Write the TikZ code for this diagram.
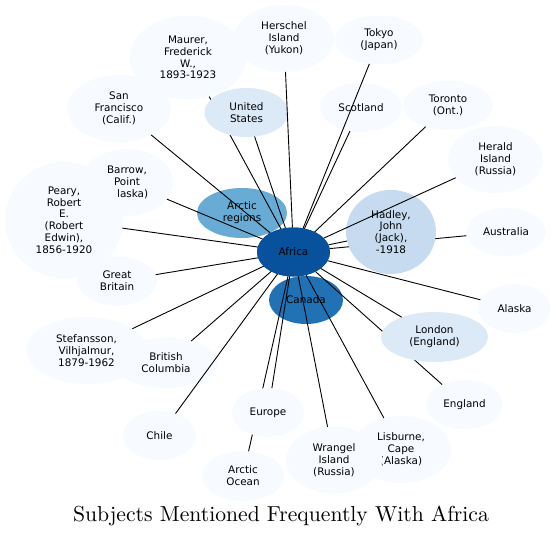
\documentclass[tikz,border=0pt]{standalone}
\usepackage{fontspec}
\usepackage{graphicx}
\usetikzlibrary{shapes.geometric}
\newfontfamily\nodefont{DejaVu Sans}
\definecolor{bl0}{HTML}{F7FBFF}
\definecolor{bl1}{HTML}{DCE9F6}
\definecolor{bl2}{HTML}{C6DBEF}
\definecolor{bl4}{HTML}{68ABD5}
\definecolor{bl6}{HTML}{2171B5}
\definecolor{bl7}{HTML}{08519C}
\tikzset{
  subj/.style n args={3}{ellipse, fill=#1, draw=none, inner sep=0pt, outer sep=0pt,
    minimum width=#2, minimum height=#3, align=center, text=black,
    font=\nodefont\fontsize{10.4}{11.8}\selectfont},
  edge/.style={draw=black, line width=0.9pt}
}
\begin{document}
\begin{tikzpicture}[x=1pt,y=-1pt]
\useasboundingbox (0,0) rectangle (556,537);
% bottom layer nodes
\node[subj={bl0}{117pt}{84pt}] (maurer) at (188,57.5) {Maurer,\\Frederick\\W.,\\1893-1923};
\node[subj={bl0}{100pt}{67pt}] (herschel) at (284,38.5) {Herschel\\Island\\(Yukon)};
\node[subj={bl0}{88pt}{49pt}] (tokyo) at (379,40) {Tokyo\\(Japan)};
\node[subj={bl0}{104pt}{67pt}] (sf) at (119,108.5) {San\\Francisco\\(Calif.)};
\node[subj={bl0}{82pt}{49pt}] (scotland) at (361,107.5) {Scotland};
\node[subj={bl0}{90pt}{49pt}] (toronto) at (448,105.5) {Toronto\\(Ont.)};
\node[subj={bl0}{95pt}{67pt}] (herald) at (495.5,159.5) {Herald\\Island\\(Russia)};
\node[subj={bl0}{92pt}{67pt}] (barrow) at (127,182.5) {Barrow,\\Point\\(Alaska)};
\node[subj={bl0}{118pt}{116pt}] (peary) at (64,220) {Peary,\\Robert\\E.\\(Robert\\Edwin),\\1856-1920};
\node[subj={bl4}{90pt}{50pt}] (arctic) at (242,213) {Arctic\\regions};
\node[subj={bl0}{80pt}{48pt}] (australia) at (506,232) {Australia};
\node[subj={bl0}{80pt}{49pt}] (gb) at (117,281) {Great\\Britain};
\node[subj={bl6}{74pt}{48pt}] (canada) at (306,300) {Canada};
\node[subj={bl0}{73pt}{49pt}] (alaska) at (514.5,308.5) {Alaska};
\node[subj={bl0}{104pt}{50pt}] (bc) at (166,363) {British\\Columbia};
\node[subj={bl0}{121pt}{67pt}] (stef) at (86.5,350.5) {Stefansson,\\Vilhjalmur,\\1879-1962};
\node[subj={bl0}{77pt}{49pt}] (england) at (464.5,404.5) {England};
\node[subj={bl0}{73pt}{49pt}] (chile) at (159.5,435.5) {Chile};
\node[subj={bl0}{82pt}{50pt}] (aocean) at (243,476) {Arctic\\Ocean};
\node[subj={bl0}{100pt}{67pt}] (lisburne) at (401,449.5) {Lisburne,\\Cape\\(Alaska)};
\node[subj={bl0}{96pt}{67pt}] (wrangel) at (334,460) {Wrangel\\Island\\(Russia)};
% the hub, placed now so that edges can reach it (redrawn on top later)
\node[subj={bl7}{73pt}{49pt}] (africa) at (293.5,252) {};
% edges hidden below some nodes
\draw[edge] (africa) -- (maurer);
\draw[edge] (africa) -- (australia);
\draw[edge] (africa) -- (england);
\draw[edge] (africa) -- (aocean);
% nodes lying over those edges
\node[subj={bl1}{84pt}{49pt}] (us) at (246.5,112.5) {United\\States};
\node[subj={bl2}{90pt}{84pt}] (hadley) at (391,232) {Hadley,\\John\\(Jack),\\-1918};
\node[subj={bl1}{107pt}{50pt}] (london) at (434.5,337) {London\\(England)};
\node[subj={bl0}{72pt}{49pt}] (europe) at (268,412.5) {Europe};
% remaining edges
\draw[edge] (africa) -- (herschel);
\draw[edge] (africa) -- (tokyo);
\draw[edge] (africa) -- (us);
\draw[edge] (africa) -- (sf);
\draw[edge] (africa) -- (scotland);
\draw[edge] (africa) -- (toronto);
\draw[edge] (africa) -- (herald);
\draw[edge] (africa) -- (barrow);
\draw[edge] (africa) -- (peary);
\draw[edge] (africa) -- (arctic);
\draw[edge] (africa) -- (hadley);
\draw[edge] (africa) -- (gb);
\draw[edge] (africa) -- (canada);
\draw[edge] (africa) -- (alaska);
\draw[edge] (africa) -- (london);
\draw[edge] (africa) -- (stef);
\draw[edge] (africa) -- (bc);
\draw[edge] (africa) -- (chile);
\draw[edge] (africa) -- (europe);
\draw[edge] (africa) -- (wrangel);
\draw[edge] (africa) -- (lisburne);
% hub on top
\node[subj={bl7}{73pt}{49pt}] (africatop) at (293.5,252) {Africa};
% title
\node[anchor=base, inner sep=0pt, font=\fontsize{10}{12}\selectfont] (title) at (281,521)
  {\scalebox{2.166}{Subjects Mentioned Frequently With Africa}};
\end{tikzpicture}
\end{document}
